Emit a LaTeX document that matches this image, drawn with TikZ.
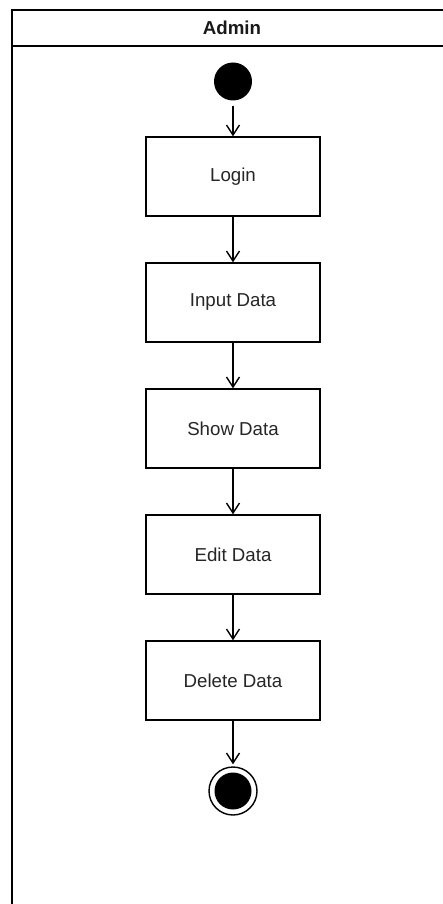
\documentclass[tikz,border=0pt]{standalone}
\usepackage{fontspec}
\setmainfont{Liberation Sans}
\usepackage{tikz}
\usetikzlibrary{positioning,arrows.meta}

\tikzset{
	activity/.style={draw, line width=1.4pt, minimum width=174pt, minimum height=79pt, inner sep=0pt, text=black!85, font=\fontsize{18.7}{22}\selectfont},
	flow/.style={draw, line width=1.4pt, -{Straight Barb[length=10pt,width=13pt,line width=1.4pt]}},
	initial/.style={circle, fill=black, minimum size=38pt, inner sep=0pt},
	final/.style={circle, draw, line width=1.4pt, minimum size=48pt, inner sep=0pt},
}

\begin{document}
\begin{tikzpicture}[x=1pt, y=-1pt, node distance=45.6pt]
\useasboundingbox (0,0) rectangle (443,904);
\fill[white] (0,0) rectangle (443,904);

% swimlane
\begin{scope}
	\clip (0,0) rectangle (443,904);
	\draw[line width=1.4pt] (12,10) rectangle (470,930); % lane body
	\draw[line width=1.4pt] (12,46) -- (470,46); % header line
\end{scope}
\node (admin) at (232,28) [text=black!90, font=\fontsize{18.7}{22}\selectfont\bfseries]{Admin};

% nodes
\node (start) at (233,81.5) [initial]{};
\node (login) at (233,176.5) [activity]{Login};
\node (input) [activity, below=of login]{Input Data};
\node (show) [activity, below=of input]{Show Data};
\node (edit) [activity, below=of show]{Edit Data};
\node (delete) [activity, below=of edit]{Delete Data};
\node (end) at (233,791) [final]{};
\node (endfill) at (end) [initial, minimum size=37pt]{};

% flows
\draw[flow, shorten <=5pt] (start) -- (login);
\draw[flow] (login) -- (input);
\draw[flow] (input) -- (show);
\draw[flow] (show) -- (edit);
\draw[flow] (edit) -- (delete);
\draw[flow, shorten >=2pt] (delete) -- (end);
\end{tikzpicture}
\end{document}
